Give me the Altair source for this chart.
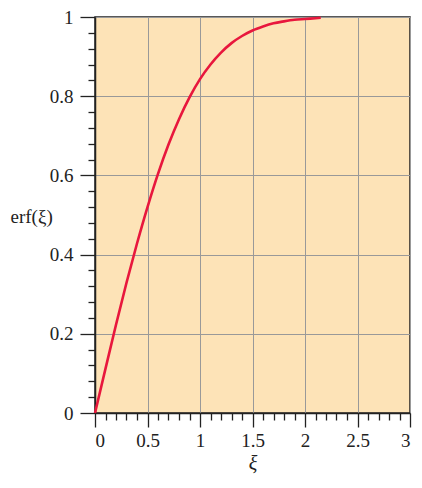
import altair as alt
import pandas as pd

# erf(xi)
xi = [0.0, 0.1, 0.2, 0.3, 0.4, 0.5, 0.6, 0.7, 0.8, 0.9, 1.0, 1.1, 1.2, 1.3,
      1.4, 1.5, 1.6, 1.7, 1.8, 1.9, 2.0, 2.1, 2.15]
erf = [0.0, 0.112, 0.223, 0.329, 0.428, 0.520, 0.604, 0.678, 0.742, 0.797,
       0.843, 0.880, 0.910, 0.934, 0.952, 0.966, 0.976, 0.984, 0.989, 0.993,
       0.995, 0.997, 0.998]

x_ticks = [round(i * 0.1, 2) for i in range(31)]
y_ticks = [round(i * 0.04, 2) for i in range(26)]

df = pd.DataFrame({"xi": xi, "erf": erf})

x_major = "abs(datum.value*2 - round(datum.value*2)) < 0.001"
y_major = "abs(datum.value*5 - round(datum.value*5)) < 0.001"

FONT = "Liberation Serif"

x_axis = alt.Axis(
    values=x_ticks,
    tickSize={"condition": {"test": x_major, "value": 14}, "value": 7},
    gridOpacity={"condition": {"test": x_major, "value": 1}, "value": 0},
    labelExpr=f"{x_major} ? '' + datum.value : ''",
    labelOverlap=False,
    labelFont=FONT, labelFontSize=19, labelColor="#222", labelPadding=4,
    tickColor="#222", tickWidth=1.3,
    domainColor="#222", domainWidth=1.5,
    gridColor="#999999", gridWidth=1,
    title="ξ", titleFont=FONT, titleFontSize=20, titleFontStyle="italic",
    titleFontWeight="normal", titleColor="#222", titlePadding=3,
)
y_axis = alt.Axis(
    values=y_ticks,
    tickSize={"condition": {"test": y_major, "value": 15}, "value": 7},
    gridOpacity={"condition": {"test": y_major, "value": 1}, "value": 0},
    labelExpr=f"{y_major} ? '' + datum.value : ''",
    labelOverlap=False,
    labelFont=FONT, labelFontSize=19, labelColor="#222", labelPadding=7,
    tickColor="#222", tickWidth=1.3,
    domainColor="#222", domainWidth=1.5,
    gridColor="#999999", gridWidth=1,
    title="erf(ξ)", titleFont=FONT, titleFontSize=19, titleFontWeight="normal",
    titleColor="#222", titleAngle=0, titleAlign="left", titleBaseline="middle",
    titleX=-85, titleY=199,
)

chart = alt.Chart(df).mark_line(
    color="#e8173d", strokeWidth=2.6, interpolate="monotone"
).encode(
    x=alt.X("xi:Q", scale=alt.Scale(domain=[0, 3], nice=False, zero=False), axis=x_axis),
    y=alt.Y("erf:Q", scale=alt.Scale(domain=[0, 1], nice=False), axis=y_axis),
).properties(
    width=315, height=396,
    autosize=alt.AutoSizeParams(type="none"),
    padding={"left": 87, "top": 9, "right": 4, "bottom": 61},
).configure_view(
    fill="#fde3b7", stroke="#222", strokeWidth=1.5,
)

chart.save("out.html", embed_options={"renderer": "svg", "actions": False})
